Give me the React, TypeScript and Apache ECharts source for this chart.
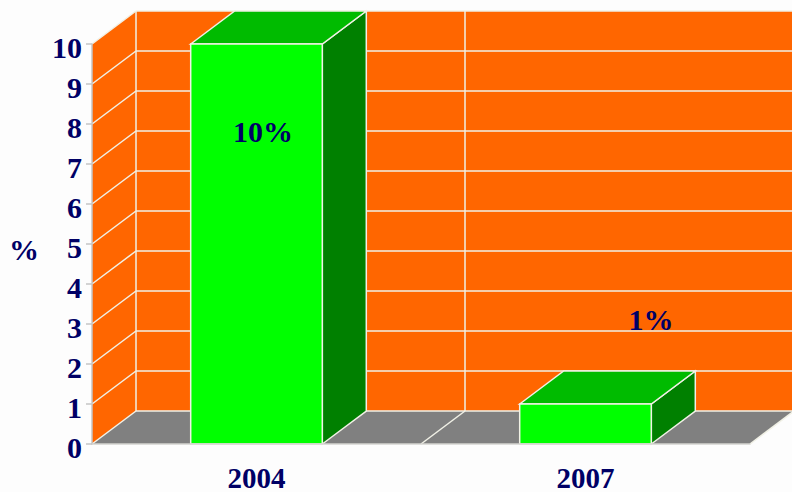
import React, { useEffect, useRef } from "react";
import * as echarts from "echarts";

const categories = ["2004", "2007"];
const values = [10, 1];
const yTicks = [0, 1, 2, 3, 4, 5, 6, 7, 8, 9, 10];
const annotations = [
  { text: "10%", x: 263, y: 131 },
  { text: "1%", x: 651, y: 319 },
];

const DX = 44;
const DY = -33;
const BAR_FRACTION = 0.4;
const NAVY = "#000066";
const FONT = "'Liberation Serif', 'Times New Roman', serif";
const EDGE = "#f1f1e6";

function poly(points: number[][], fill: string, stroke = EDGE, lineWidth = 1.5) {
  return { type: "polygon", shape: { points }, style: { fill, stroke, lineWidth }, silent: true };
}
function seg(a: number[], b: number[], stroke = EDGE, lineWidth = 1.5) {
  return { type: "line", shape: { x1: a[0], y1: a[1], x2: b[0], y2: b[1] }, style: { stroke, lineWidth, fill: "none" }, silent: true };
}

function renderWalls(_: any, api: any) {
  const band = api.size([1, 0])[0];
  const yMax = yTicks[yTicks.length - 1];
  const c0 = api.coord([0, 0]);
  const c1 = api.coord([categories.length - 1, yMax]);
  const left = c0[0] - band / 2;
  const right = c1[0] + band / 2;
  const bottom = c0[1];
  const top = c1[1];
  const back = (p: number[]) => [p[0] + DX, p[1] + DY];
  const children: any[] = [
    poly([[left, bottom], back([left, bottom]), back([left, top]), [left, top]], "#ff6600", "none"),
    poly([back([left, bottom]), back([right, bottom]), back([right, top]), back([left, top])], "#ff6600", "none"),
    poly([[left, bottom], [right, bottom], back([right, bottom]), back([left, bottom])], "#808080", "none"),
  ];
  yTicks.forEach((v) => {
    const y = api.coord([0, v])[1];
    if (v > 0) children.push(seg([left, y], back([left, y])));
    children.push(seg(back([left, y]), back([right, y])));
  });
  for (let i = 0; i <= categories.length; i++) {
    const x = left + i * band;
    children.push(seg([x, bottom], back([x, bottom])));
    children.push(seg(back([x, bottom]), back([x, top])));
  }
  return { type: "group", children };
}

function renderBar(_: any, api: any) {
  const idx = api.value(0);
  const band = api.size([1, 0])[0];
  const w = band * BAR_FRACTION;
  const base = api.coord([idx, 0]);
  const head = api.coord([idx, api.value(1)]);
  const x0 = base[0] - w / 2;
  const x1 = base[0] + w / 2;
  const yb = base[1];
  const yt = head[1];
  return {
    type: "group",
    children: [
      poly([[x1, yb], [x1 + DX, yb + DY], [x1 + DX, yt + DY], [x1, yt]], "#008000"),
      poly([[x0, yt], [x0 + DX, yt + DY], [x1 + DX, yt + DY], [x1, yt]], "#00bb00"),
      poly([[x0, yb], [x1, yb], [x1, yt], [x0, yt]], "#00ff00"),
    ],
  };
}

export default function App() {
  const ref = useRef<HTMLDivElement>(null);
  useEffect(() => {
    const chart = echarts.init(ref.current!, undefined, { renderer: "svg" });
    chart.setOption({
      animation: false,
      backgroundColor: "#fdfdfd",
      textStyle: { fontFamily: FONT },
      grid: { left: 92, right: 42, top: 44, bottom: 48, outerBoundsMode: "none" },
      xAxis: {
        type: "category",
        data: categories,
        z: 5,
        axisLine: { lineStyle: { color: "#d4d4d0", width: 1.5 } },
        axisTick: { length: 7, alignWithLabel: false, lineStyle: { color: "#c4c4c4", width: 1.5 } },
        axisLabel: { color: NAVY, fontFamily: FONT, fontWeight: "bold", fontSize: 29, lineHeight: 20, margin: 23.5 },
      },
      yAxis: {
        type: "value",
        min: 0,
        max: 10,
        interval: 1,
        name: "%",
        nameLocation: "middle",
        nameRotate: 0,
        nameGap: 53,
        nameTextStyle: { color: NAVY, fontFamily: FONT, fontWeight: "bold", fontSize: 30, verticalAlign: "top", lineHeight: 10 },
        z: 5,
        splitLine: { show: false },
        axisLine: { show: true, lineStyle: { color: "#c4c4c4", width: 1.5 } },
        axisTick: { show: true, length: 6, lineStyle: { color: "#c4c4c4", width: 1.5 } },
        axisLabel: { color: NAVY, fontFamily: FONT, fontWeight: "bold", fontSize: 30, margin: 10, verticalAlign: "top", lineHeight: 6 },
      },
      graphic: annotations.map((a) => ({
        type: "text",
        x: a.x,
        y: a.y,
        z: 20,
        style: { text: a.text, fill: NAVY, font: `bold 30px ${FONT}`, align: "center", verticalAlign: "middle" },
      })),
      series: [
        { type: "custom", z: 1, clip: false, silent: true, renderItem: renderWalls, data: [[0, 0]], encode: { x: 0, y: 1 } },
        {
          type: "custom",
          z: 2,
          clip: false,
          silent: true,
          renderItem: renderBar,
          data: values.map((v, i) => [i, v]),
          encode: { x: 0, y: 1 },
        },
      ],
    });
    return () => chart.dispose();
  }, []);
  return <div ref={ref} style={{ position: "absolute", left: 0, top: 0, width: 792, height: 492 }} />;
}
